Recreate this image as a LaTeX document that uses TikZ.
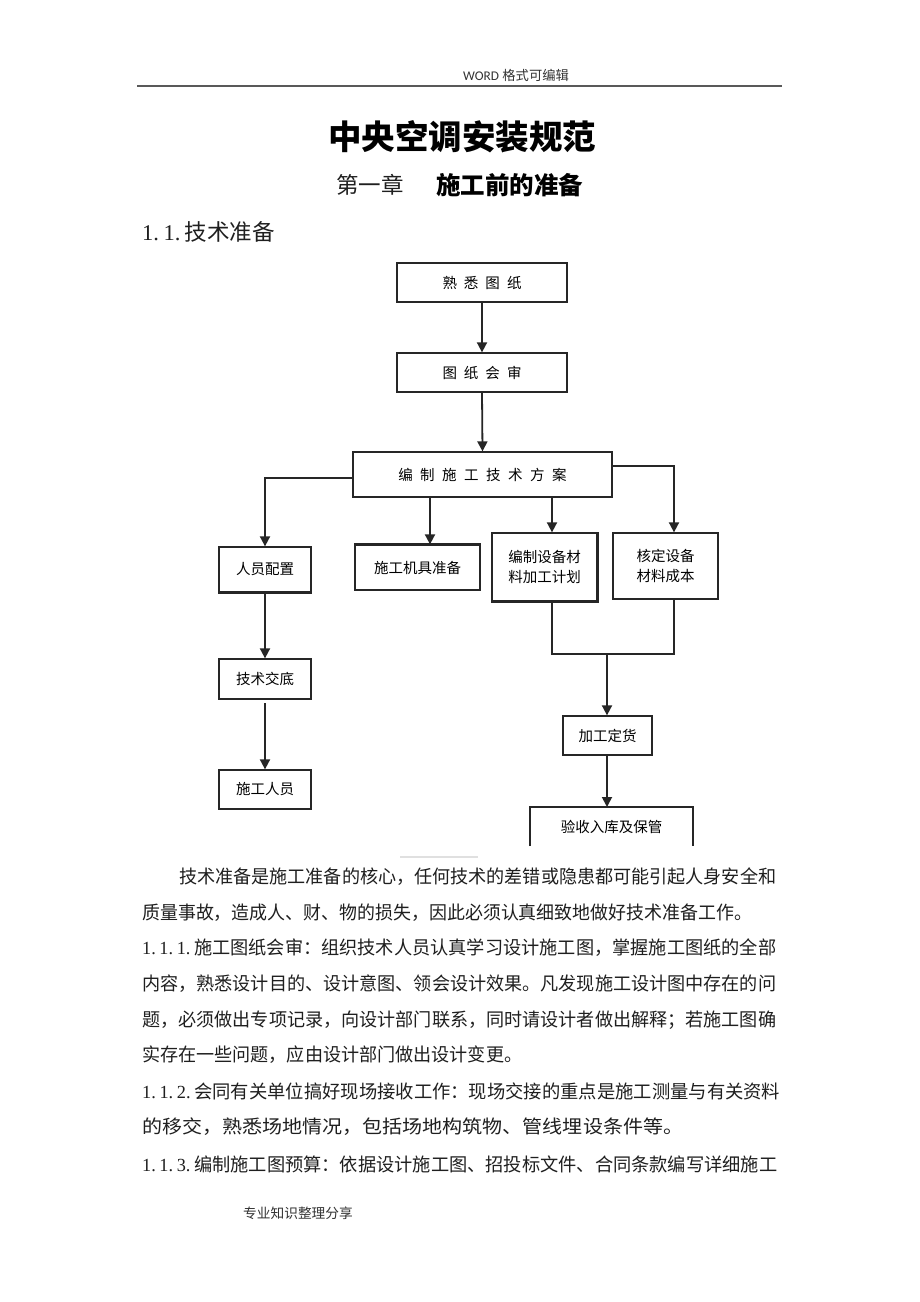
\documentclass[tikz,border=0pt]{standalone}
\usepackage{fontspec}
\usepackage{graphicx}
\setmainfont{Liberation Serif}
\newfontfamily\cjk{Noto Sans CJK SC}
\newfontfamily\wordf{Carlito}
\usetikzlibrary{arrows.meta,calc}
\newcommand\nd[1]{\makebox[0.95em][l]{#1}}
\newcommand\bodyline[2]{\resizebox{#1pt}{\height}{\cjk\fontsize{18.5}{20}\selectfont #2}}
\begin{document}
\begin{tikzpicture}[x=1pt,y=-1pt,
  box/.style={draw=black!85,line width=1.3pt,inner sep=0pt,font=\cjk\fontsize{14.5}{20}\selectfont,align=center},
  arr/.style={draw=black!85,line width=1.8pt,-{Triangle[length=10pt,width=10pt]}},
  ln/.style={draw=black!85,line width=1.8pt},
  edge/.style={draw=black!85,line width=1.3pt},
  thick edge/.style={draw=black!85,line width=2.6pt},
  txt/.style={inner sep=0pt,anchor=west,text=black!88}]
\useasboundingbox[fill=white] (0,0) rectangle (920,1302);

% header
\node[txt,text=black!80,font=\fontsize{13.3}{15}\selectfont] (hdr) at (463,75) {{\wordf WORD} {\cjk 格式可编辑}};
\coordinate (hl1) at (137,86);
\coordinate (hl2) at (782,86);
\draw[line width=2pt,black!65] (hl1) -- (hl2);

% titles
\node[inner sep=0pt,font=\cjk\bfseries\fontsize{33.5}{36}\selectfont] (title) at (462,137) {中央空调安装规范};
\node[txt,font=\cjk\fontsize{22.5}{25}\selectfont] (chap) at (336,185) {第一章};
\node[txt,text=black,font=\cjk\bfseries\fontsize{24.5}{27}\selectfont] (chapn) at (436,185) {施工前的准备};
\node[txt,font=\fontsize{22.5}{25}\selectfont] (sec) at (142,232) {\nd{1.}\nd{1.}{\cjk 技术准备}};

% flowchart
\node[box,minimum width=170,minimum height=39] (sx) at (482,282.5) {熟\hspace{7pt}悉\hspace{7pt}图\hspace{7pt}纸};
\node[box,minimum width=170,minimum height=39] (hs) at (482,372.5) {图\hspace{7pt}纸\hspace{7pt}会\hspace{7pt}审};
\node[box,minimum width=259,minimum height=45] (fa) at (482.5,474.5) {编\hspace{7.5pt}制\hspace{7.5pt}施\hspace{7.5pt}工\hspace{7.5pt}技\hspace{7.5pt}术\hspace{7.5pt}方\hspace{7.5pt}案};
\node[box,minimum width=92,minimum height=45] (ry) at (265,569.5) {人员配置};
\node[box,minimum width=92,minimum height=40] (jd) at (265,679) {技术交底};
\node[box,minimum width=92,minimum height=39] (sr) at (265,789.5) {施工人员};
\node[box,minimum width=125,minimum height=45] (jj) at (417.5,567.5) {施工机具准备};
\node[box,minimum width=105,minimum height=68] (bz) at (544.5,567) {编制设备材\\料加工计划};
\node[box,minimum width=105,minimum height=66] (hd) at (665.5,566) {核定设备\\材料成本};
\node[box,minimum width=89,minimum height=39] (jg) at (607.5,735.5) {加工定货};
\node[inner sep=0pt,font=\cjk\fontsize{14.5}{20}\selectfont] (ys) at (611.5,827) {验收入库及保管};
\coordinate (ys1) at (530,846);
\coordinate (ys2) at (530,807);
\coordinate (ys3) at (693,807);
\coordinate (ys4) at (693,846);
\draw[edge] (ys1) -- (ys2) -- (ys3) -- (ys4);

% thicker edges
\draw[thick edge] (ry.south west) -- (ry.south east);
\draw[thick edge] (jj.north west) -- (jj.north east);
\draw[thick edge] (bz.south west) -- (bz.south east) -- (bz.north east);

% connectors
\coordinate (yl) at (0,478);
\coordinate (yr) at (0,466);
\coordinate (x430) at (430,0);
\coordinate (x552) at (552,0);
\coordinate (x674) at (674,0);
\coordinate (x607) at (607,0);
\coordinate (ym) at (0,654);
\coordinate (jdo) at (265,703);

\draw[arr] (sx.south) -- (hs.north);
\draw[arr] (hs.south) -- (fa.north);
\draw[arr] (fa.west |- yl) -| (ry.north);
\draw[arr] (fa.east |- yr) -| (hd.north -| x674);
\draw[arr] (fa.south -| x430) -- (jj.north -| x430);
\draw[arr] (fa.south -| x552) -- (bz.north -| x552);
\draw[arr] (ry.south) -- (jd.north);
\draw[arr] (jdo) -- (sr.north);
\draw[ln] (bz.south -| x552) -- (x552 |- ym) -- (x674 |- ym) -- (hd.south -| x674);
\draw[arr] (x607 |- ym) -- (jg.north -| x607);
\draw[arr] (jg.south -| x607) -- (ys2 -| x607);

% faint separator
\coordinate (fl1) at (400,857);
\coordinate (fl2) at (478,857);
\draw[black!12,line width=1.5pt] (fl1) -- (fl2);

% body text
\node[txt] (l1) at (179,877) {\bodyline{597}{技术准备是施工准备的核心，任何技术的差错或隐患都可能引起人身安全和}};
\node[txt] (l2) at (142,913) {\bodyline{610}{质量事故，造成人、财、物的损失，因此必须认真细致地做好技术准备工作。}};
\node[txt] (l3) at (142,948) {\bodyline{634}{{\rmfamily\nd{1.}\nd{1.}\nd{1.}}施工图纸会审：组织技术人员认真学习设计施工图，掌握施工图纸的全部}};
\node[txt] (l4) at (142,984) {\bodyline{634}{内容，熟悉设计目的、设计意图、领会设计效果。凡发现施工设计图中存在的问}};
\node[txt] (l5) at (142,1020) {\bodyline{634}{题，必须做出专项记录，向设计部门联系，同时请设计者做出解释；若施工图确}};
\node[txt] (l6) at (142,1055) {\bodyline{380}{实存在一些问题，应由设计部门做出设计变更。}};
\node[txt] (l7) at (142,1091) {\bodyline{638}{{\rmfamily\nd{1.}\nd{1.}\nd{2.}}会同有关单位搞好现场接收工作：现场交接的重点是施工测量与有关资料}};
\node[txt] (l8) at (142,1127) {\bodyline{541}{的移交，熟悉场地情况，包括场地构筑物、管线埋设条件等。}};
\node[txt] (l9) at (142,1164) {\bodyline{635}{{\rmfamily\nd{1.}\nd{1.}\nd{3.}}编制施工图预算：依据设计施工图、招投标文件、合同条款编写详细施工}};

% footer
\node[txt,text=black!80,font=\cjk\fontsize{13.7}{15}\selectfont] (ftr) at (243,1213) {专业知识整理分享};
\end{tikzpicture}
\end{document}
